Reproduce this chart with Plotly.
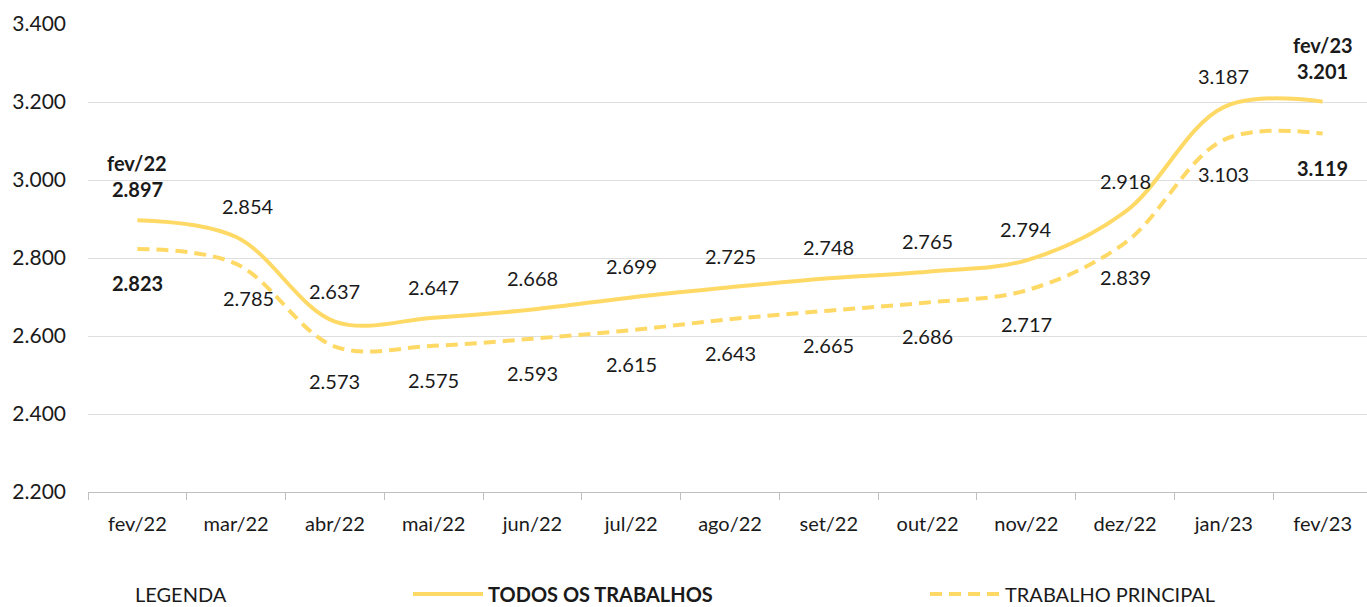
import plotly.graph_objects as go

months = ["fev/22", "mar/22", "abr/22", "mai/22", "jun/22", "jul/22", "ago/22",
          "set/22", "out/22", "nov/22", "dez/22", "jan/23", "fev/23"]
todos = [2897, 2854, 2637, 2647, 2668, 2699, 2725, 2748, 2765, 2794, 2918, 3187, 3201]
principal = [2823, 2785, 2573, 2575, 2593, 2615, 2643, 2665, 2686, 2717, 2839, 3103, 3119]
y_ticks = [2200, 2400, 2600, 2800, 3000, 3200, 3400]

COLOR = "#FFD966"
FONT = "Lato"
TXT = "#1a1a1a"
FS = 20
W = 1372
PW = W - 88

def fmt(v):
    return f"{v:,}".replace(",", ".")

fig = go.Figure()
fig.add_trace(go.Scatter(
    x=months, y=todos, mode="lines", name="<b>TODOS OS TRABALHOS</b>",
    line=dict(color=COLOR, width=4, shape="spline", smoothing=1.0),
    hoverinfo="skip"))
fig.add_trace(go.Scatter(
    x=months, y=principal, mode="lines", name="TRABALHO PRINCIPAL",
    line=dict(color=COLOR, width=4, shape="spline", smoothing=1.0, dash="12px,7px"),
    hoverinfo="skip"))

annotations = []
n = len(months)
for i, m in enumerate(months):
    bold = i in (0, n - 1)
    t1 = fmt(todos[i])
    t2 = fmt(principal[i])
    xs = 12 if i == 1 else 0
    if bold:
        t1, t2 = f"<b>{t1}</b>", f"<b>{t2}</b>"
        annotations.append(dict(x=m, y=todos[i], xref="x", yref="y", text=f"<b>{m}</b>",
                                showarrow=False, yshift=57, font=dict(size=FS, color=TXT, family=FONT)))
    annotations.append(dict(x=m, y=todos[i], xref="x", yref="y", text=t1, xshift=xs,
                            showarrow=False, yshift=31, font=dict(size=FS, color=TXT, family=FONT)))
    annotations.append(dict(x=m, y=principal[i], xref="x", yref="y", text=t2, xshift=xs,
                            showarrow=False, yshift=-34, font=dict(size=FS, color=TXT, family=FONT)))

LEG_Y = -(594 - 492) / 468
annotations.append(dict(x=(181 - 88) / PW, y=LEG_Y, xref="paper", yref="paper",
                        text="LEGENDA", showarrow=False, xanchor="center", yanchor="middle",
                        font=dict(size=FS, color=TXT, family=FONT)))

fig.update_layout(
    width=W, height=607,
    margin=dict(l=88, r=0, t=24, b=115, autoexpand=False),
    paper_bgcolor="white", plot_bgcolor="white",
    font=dict(family=FONT, size=FS, color=TXT),
    separators=",.",
    annotations=annotations,
    showlegend=True,
    legend=dict(orientation="h", x=(408 - 88) / PW, y=LEG_Y, xanchor="left", yanchor="middle",
                font=dict(size=FS, color=TXT, family=FONT),
                entrywidth=432, entrywidthmode="pixels", itemwidth=70,
                bgcolor="rgba(0,0,0,0)"),
    xaxis=dict(
        type="category", range=[-0.5, n - 0.5], automargin=False,
        showgrid=False, showline=True, linecolor="#bfbfbf", linewidth=1,
        ticks="outside", tickson="boundaries", ticklen=7, tickcolor="#bfbfbf",
        tickfont=dict(size=FS, color=TXT, family=FONT), ticklabelstandoff=14,
        fixedrange=True),
    yaxis=dict(
        range=[2200, 3400], tickvals=y_ticks, ticktext=[fmt(v) for v in y_ticks],
        showgrid=True, gridcolor="#dedede", gridwidth=1, zeroline=False, automargin=False,
        showline=False, tickfont=dict(size=21, color=TXT, family=FONT),
        ticklabelstandoff=21, fixedrange=True),
)

fig.write_html("out.html", config={"displayModeBar": False, "staticPlot": True},
               post_script="document.body.style.margin='0';document.body.style.overflow='hidden';")
